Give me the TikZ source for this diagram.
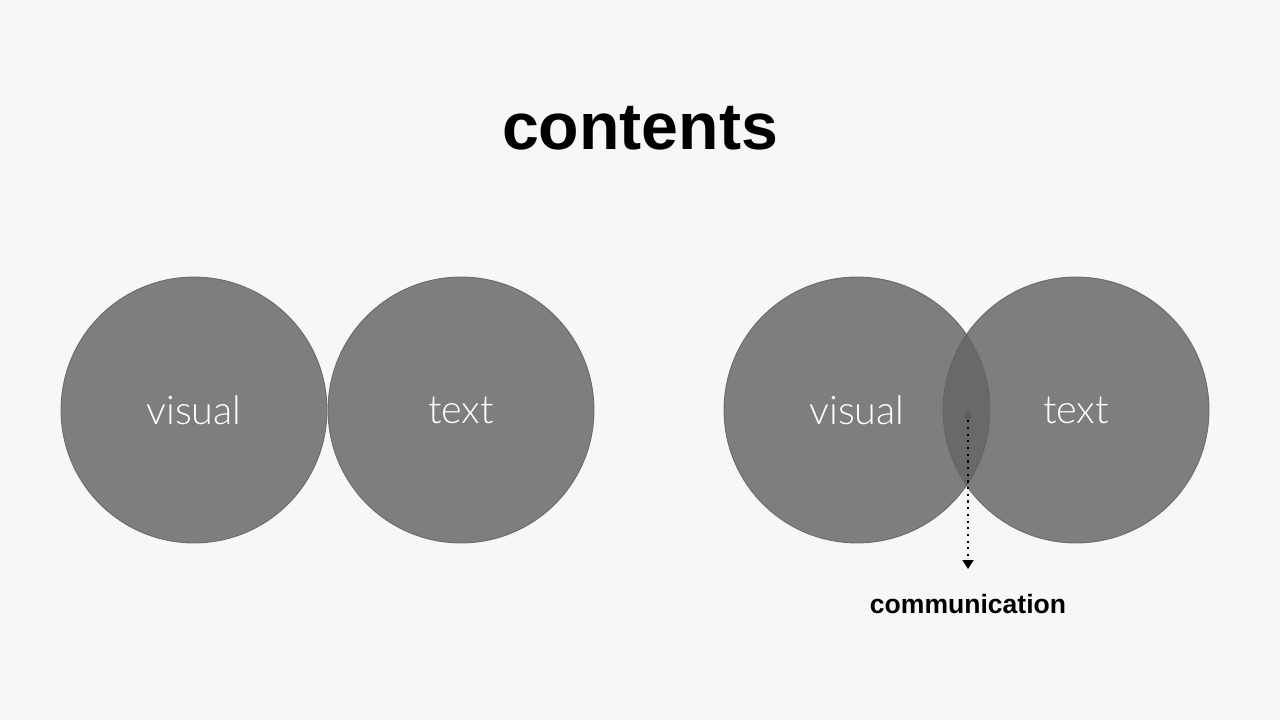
\documentclass[tikz,border=0pt]{standalone}
\usepackage{fontspec}
\setmainfont{Liberation Sans}
\newfontfamily\lightfont{Lato Light}
\usetikzlibrary{arrows.meta}
\definecolor{bg}{HTML}{F7F7F7}
\definecolor{circfill}{RGB}{101,101,101}
\definecolor{circline}{RGB}{100,100,100}
\tikzset{
  venn/.style={circle, minimum size=5.32cm, inner sep=0pt, fill=circfill, fill opacity=0.825, draw=circline, draw opacity=0.9, line width=0.5pt},
  vennlabel/.style={text=white, font=\lightfont\fontsize{22.5}{27}\selectfont},
  titlefont/.style={font=\bfseries\fontsize{37.7}{44}\selectfont, text=black},
  labelfont/.style={font=\bfseries\fontsize{15.1}{18}\selectfont, text=black},
}
\begin{document}
\begin{tikzpicture}[x=0.02cm,y=-0.02cm]
\fill[bg] (0,0) rectangle (1280,720);
\useasboundingbox (0,0) rectangle (1280,720);
\node[titlefont] (title) at (640,128) {contents};
\node[venn] (v1) at (194,410) {};
\node[venn] (t1) at (461,410) {};
\node[venn] (v2) at (857,410) {};
\node[venn] (t2) at (1076,410) {};
\node[vennlabel] (v1l) at (194,410) {visual};
\node[vennlabel] (t1l) at (461,410) {text};
\node[vennlabel] (v2l) at (857,410) {visual};
\node[vennlabel] (t2l) at (1076,410) {text};
\node[circle, fill=black, fill opacity=0.12, inner sep=0pt, minimum size=0.16cm] (dot) at (968,416) {};
\coordinate (tip) at (968,569);
\draw[black, line width=1.2pt, dash pattern=on 1.2pt off 2.6pt, -{Triangle[length=5pt,width=6pt]}] (dot) -- (tip);
\node[labelfont] (comm) at (968,604) {communication};
\end{tikzpicture}
\end{document}
